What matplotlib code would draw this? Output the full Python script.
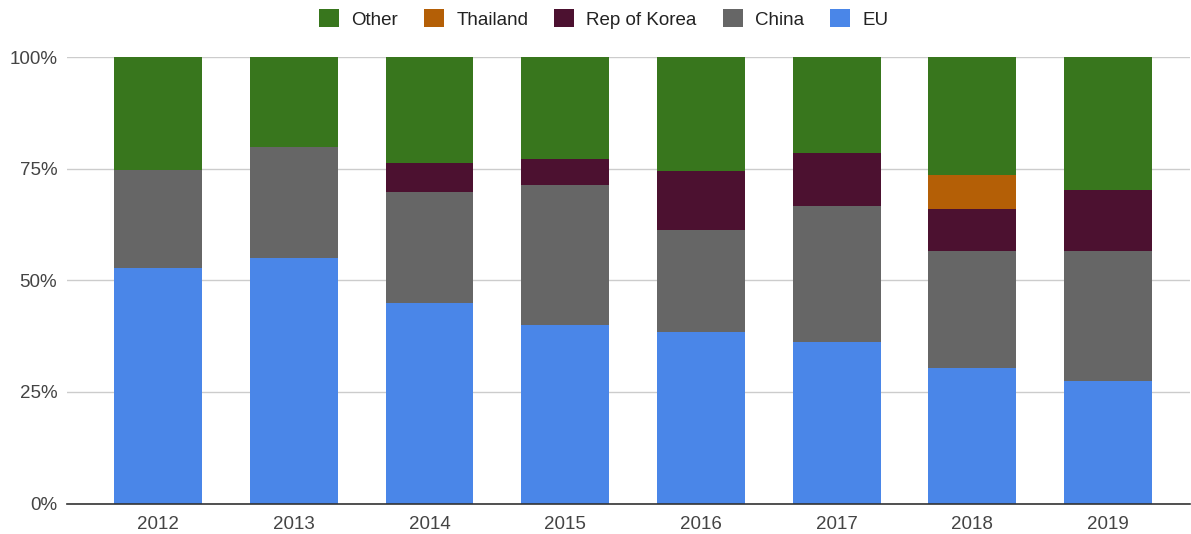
import numpy as np
import matplotlib.pyplot as plt
from matplotlib.patches import Patch

plt.rcParams['font.family'] = ['Liberation Sans', 'DejaVu Sans']

years = ["2012", "2013", "2014", "2015", "2016", "2017", "2018", "2019"]

# share of each origin per year (%)
eu = [52.8, 55.1, 45.0, 40.1, 38.4, 36.2, 30.3, 27.5]
china = [22.0, 24.8, 24.9, 31.2, 22.9, 30.5, 26.3, 29.1]
korea = [0.0, 0.0, 6.3, 6.0, 13.2, 11.9, 9.3, 13.7]
thailand = [0.0, 0.0, 0.0, 0.0, 0.0, 0.0, 7.8, 0.0]
other = [100 - (a + b + c + d) for a, b, c, d in zip(eu, china, korea, thailand)]

series = [("EU", eu, "#4a86e8"),
          ("China", china, "#666666"),
          ("Rep of Korea", korea, "#4c1130"),
          ("Thailand", thailand, "#b45f06"),
          ("Other", other, "#38761d")]

fig = plt.figure(figsize=(11.91, 5.34), dpi=100)
ax = fig.add_axes([67 / 1191, 30.5 / 534, 1123 / 1191, 446.2 / 534])

x = np.arange(len(years))
bottom = np.zeros(len(years))
for name, vals, col in series:
    v = np.array(vals) / 100
    ax.bar(x, v, bottom=bottom, width=0.648, color=col, linewidth=0, zorder=3)
    bottom += v

ax.set_xlim(-0.671, 7.604)
ax.set_ylim(0, 1)
ax.set_yticks([0, 0.25, 0.5, 0.75, 1.0])
ax.set_yticklabels(["0%", "25%", "50%", "75%", "100%"])
ax.set_xticks(x)
ax.set_xticklabels(years)
ax.tick_params(length=0, labelsize=13.5, colors="#444444")
ax.tick_params(axis="x", pad=9)
ax.tick_params(axis="y", pad=7)
ax.grid(axis="y", color="#cccccc", linewidth=1, zorder=0)
for s in ["top", "right", "left"]:
    ax.spines[s].set_visible(False)
ax.spines["bottom"].set_color("#333333")
ax.spines["bottom"].set_linewidth(1.2)
ax.spines["bottom"].set_zorder(4)

handles = [Patch(facecolor=col, label=name) for name, vals, col in series[::-1]]
fig.legend(handles=handles, loc="center", bbox_to_anchor=(0.507, 1 - 19 / 534),
           ncol=5, frameon=False, fontsize=13.5, handlelength=1.05, handleheight=1.05,
           handletextpad=0.65, columnspacing=1.4, labelcolor="#222222")

plt.savefig("out.png", dpi=100)
